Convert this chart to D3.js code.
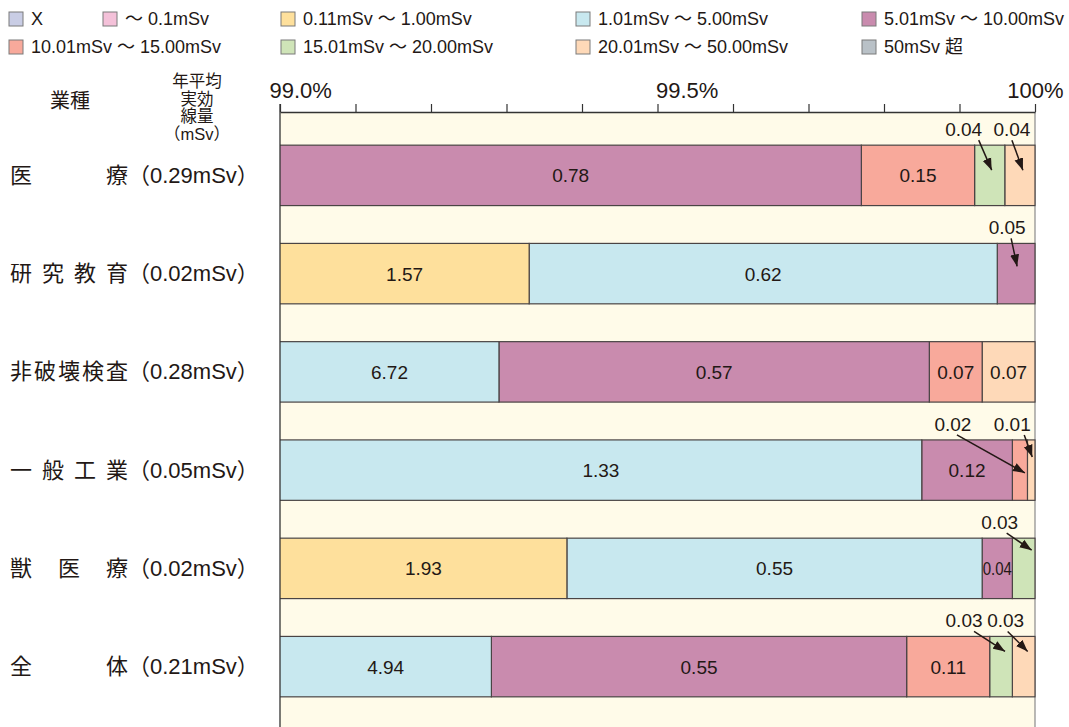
<!DOCTYPE html>
<html lang="ja">
<head>
<meta charset="utf-8">
<script src="https://cdn.jsdelivr.net/npm/d3@7/dist/d3.min.js"></script>
<style>
  html, body { margin: 0; padding: 0; background: #fff; }
  svg { display: block; }
</style>
</head>
<body>
<svg id="chart" width="1069" height="727"></svg>
<script>
// Dose bands (legend order)
const bands = [
  "X", "～ 0.1mSv", "0.11mSv ～ 1.00mSv", "1.01mSv ～ 5.00mSv", "5.01mSv ～ 10.00mSv",
  "10.01mSv ～ 15.00mSv", "15.01mSv ～ 20.00mSv", "20.01mSv ～ 50.00mSv", "50mSv 超"
];
const bandColors = [
  "#c9cde5", "#f4c1d9", "#fee09c", "#c8e8ef", "#c98bae",
  "#f8a99b", "#cfe4b8", "#fed9b8", "#b9c1c7"
];

// Sectors and their annual mean effective dose (mSv)
const sectors = ["医療", "研究教育", "非破壊検査", "一般工業", "獣医療", "全体"];
const meanDose = [0.29, 0.02, 0.28, 0.05, 0.02, 0.21];

// Share of workers (%) in each band; null = band lies left of the 99.0% axis start
const medical     = [null, null, null, null, 0.78, 0.15, 0.04, 0.04, 0];
const research    = [null, null, 1.57, 0.62, 0.05, 0,    0,    0,    0];
const ndt         = [null, null, null, 6.72, 0.57, 0.07, 0,    0.07, 0];
const industry    = [null, null, null, 1.33, 0.12, 0.02, 0,    0.01, 0];
const veterinary  = [null, null, 1.93, 0.55, 0.04, 0,    0.03, 0,    0];
const overall     = [null, null, null, 4.94, 0.55, 0.11, 0.03, 0.03, 0];
const shares = [medical, research, ndt, industry, veterinary, overall];

// Axis
const axisTicks = d3.range(0, 11).map(i => 99 + i * 0.1);
const axisLabels = {"99.0": "99.0%", "99.5": "99.5%", "100.0": "100%"};

// Callouts for segments too narrow for an inner label
// [row, band, label dx from segment centre, arrow start dx from label, arrow end dx, arrow end dy from bar top]
const callouts = [
  [0, 6, -26, 15, 2, 25],
  [0, 7, -8, 0, 3, 25],
  [1, 4, -9, 4, 1, 23],
  [3, 5, -67, 4, 5, 33],
  [3, 7, -19, 12, 1, 17],
  [4, 6, -24, 7, 8, 12],
  [5, 6, -37, 10, 4, 15],
  [5, 7, -18, 2, 4, 15]
];

const INK = "#231815";
const LATIN = "'Liberation Sans', 'Noto Sans CJK JP', sans-serif";
const CJK = "'Noto Sans CJK JP', sans-serif";

const svg = d3.select("#chart");
const left = 280, right = 1035, axisY = 112;

const x = d3.scaleLinear().domain([99, 100]).range([left, right]);
const y = d3.scaleBand().domain(sectors).range([126, 716]).paddingInner(0.385).paddingOuter(0.195);

// Plot background
svg.append("rect").attr("x", left).attr("y", axisY).attr("width", right - left).attr("height", 727 - axisY)
  .attr("fill", "#fffbe9");
svg.append("line").attr("x1", right).attr("x2", right).attr("y1", axisY).attr("y2", 727)
  .attr("stroke", "#8a8a8a").attr("stroke-width", 1.2);

// Clip so bands extending below 99.0% are cut at the axis start
const defs = svg.append("defs");
defs.append("clipPath").attr("id", "plotClip")
  .append("rect").attr("x", left).attr("y", 0).attr("width", right - left + 2).attr("height", 727);

defs.append("marker").attr("id", "arrowHead")
  .attr("viewBox", "0 -5 12 10").attr("refX", 12).attr("refY", 0)
  .attr("markerWidth", 12).attr("markerHeight", 10).attr("markerUnits", "userSpaceOnUse")
  .attr("orient", "auto")
  .append("path").attr("d", "M0,-4.5L12,0L0,4.5Z").attr("fill", INK);

// Build stacked segments from the right (100%) leftwards
const segments = [];
shares.forEach((vals, r) => {
  let end = 100;
  for (let b = vals.length - 1; b >= 0; b--) {
    const v = vals[b];
    if (v === null) break;
    if (v > 0) {
      const start = end - v;
      segments.push({row: r, band: b, value: v, x0: start, x1: end});
      end = start;
    }
  }
});

const bars = svg.append("g").attr("clip-path", "url(#plotClip)");
bars.selectAll("rect").data(segments).join("rect")
  .attr("x", d => x(d.x0))
  .attr("y", d => y(sectors[d.row]))
  .attr("width", d => x(d.x1) - x(d.x0))
  .attr("height", y.bandwidth())
  .attr("fill", d => bandColors[d.band])
  .attr("stroke", "#4a4444").attr("stroke-width", 1.2);

// Left axis line
svg.append("line").attr("x1", left).attr("x2", left).attr("y1", axisY - 8).attr("y2", 727)
  .attr("stroke", "#333").attr("stroke-width", 1.3);

// Top axis
const axis = d3.axisTop(x).tickValues(axisTicks).tickSize(8).tickSizeOuter(0).tickPadding(6)
  .tickFormat(d => axisLabels[d.toFixed(1)] || "");
const gAxis = svg.append("g").attr("transform", `translate(0,${axisY})`).call(axis);
gAxis.select(".domain").attr("stroke", "#333").attr("stroke-width", 1.3);
gAxis.selectAll(".tick line").attr("stroke", "#333").attr("stroke-width", 1.2);
gAxis.selectAll(".tick text")
  .attr("fill", INK).attr("font-family", LATIN).attr("font-size", 22)
  .attr("text-anchor", d => d.toFixed(1) === "100.0" ? "end" : "start")
  .attr("dx", d => ({"99.0": -11, "99.5": -2, "100.0": 28})[d.toFixed(1)] || 0);

// Value labels inside segments
const inner = segments.filter(s => !callouts.some(c => c[0] === s.row && c[1] === s.band));
svg.append("g").selectAll("text").data(inner).join("text")
  .attr("x", d => (Math.max(x(d.x0), left) + x(d.x1)) / 2)
  .attr("y", d => y(sectors[d.row]) + y.bandwidth() / 2 + 7)
  .attr("text-anchor", "middle")
  .attr("font-family", LATIN).attr("font-size", 19).attr("fill", INK)
  .text(d => d.value.toFixed(2))
  .each(function (d) {
    const w = x(d.x1) - Math.max(x(d.x0), left) - 1;
    if (this.getComputedTextLength() > w) {
      d3.select(this).attr("textLength", w).attr("lengthAdjust", "spacingAndGlyphs");
    }
  });

// Callout labels with arrows
const gCall = svg.append("g");
callouts.forEach(([r, b, lx, sx, ex, ey]) => {
  const s = segments.find(d => d.row === r && d.band === b);
  const top = y(sectors[r]);
  const cx = (x(s.x0) + x(s.x1)) / 2;
  const labelX = cx + lx;
  gCall.append("text")
    .attr("x", labelX).attr("y", top - 9)
    .attr("text-anchor", "middle")
    .attr("font-family", LATIN).attr("font-size", 19).attr("fill", INK)
    .text(s.value.toFixed(2));
  gCall.append("line")
    .attr("x1", labelX + sx).attr("y1", top - 5)
    .attr("x2", cx + ex).attr("y2", top + ey)
    .attr("stroke", INK).attr("stroke-width", 1.5)
    .attr("marker-end", "url(#arrowHead)");
});

// Row labels: sector name spread over a fixed width, then mean dose
const gRows = svg.append("g");
sectors.forEach((name, i) => {
  const base = y(name) + y.bandwidth() / 2 + 7.5;
  const chars = Array.from(name);
  const n = chars.length;
  chars.forEach((ch, k) => {
    gRows.append("text")
      .attr("x", n > 1 ? 10 + k * (96 / (n - 1)) : 10).attr("y", base)
      .attr("font-family", CJK).attr("font-size", 22).attr("fill", INK)
      .text(ch);
  });
  gRows.append("text")
    .attr("x", 128).attr("y", base)
    .attr("font-family", LATIN).attr("font-size", 22).attr("fill", INK)
    .text(`（${meanDose[i].toFixed(2)}mSv）`);
});

// Column headers
svg.append("text").attr("x", 70).attr("y", 108).attr("text-anchor", "middle")
  .attr("font-family", CJK).attr("font-size", 20).attr("fill", INK).text("業種");
["年平均", "実効", "線量", "（mSv）"].forEach((t, i) => {
  svg.append("text").attr("x", 197).attr("y", 87 + i * 17.5).attr("text-anchor", "middle")
    .attr("font-family", LATIN).attr("font-size", 16.5).attr("fill", INK).text(t);
});

// Legend
const legendPos = [[9, 12], [103, 12], [281, 12], [576, 12], [862, 12], [9, 40], [281, 40], [576, 40], [862, 40]];
const gLeg = svg.append("g");
bands.forEach((label, i) => {
  const [lx, ly] = legendPos[i];
  gLeg.append("rect").attr("x", lx).attr("y", ly).attr("width", 14).attr("height", 14)
    .attr("fill", bandColors[i]).attr("stroke", "#7a7a7a").attr("stroke-width", 1);
  gLeg.append("text").attr("x", lx + 22).attr("y", ly + 13)
    .attr("font-family", LATIN).attr("font-size", 18).attr("fill", INK).text(label);
});
</script>
</body>
</html>
